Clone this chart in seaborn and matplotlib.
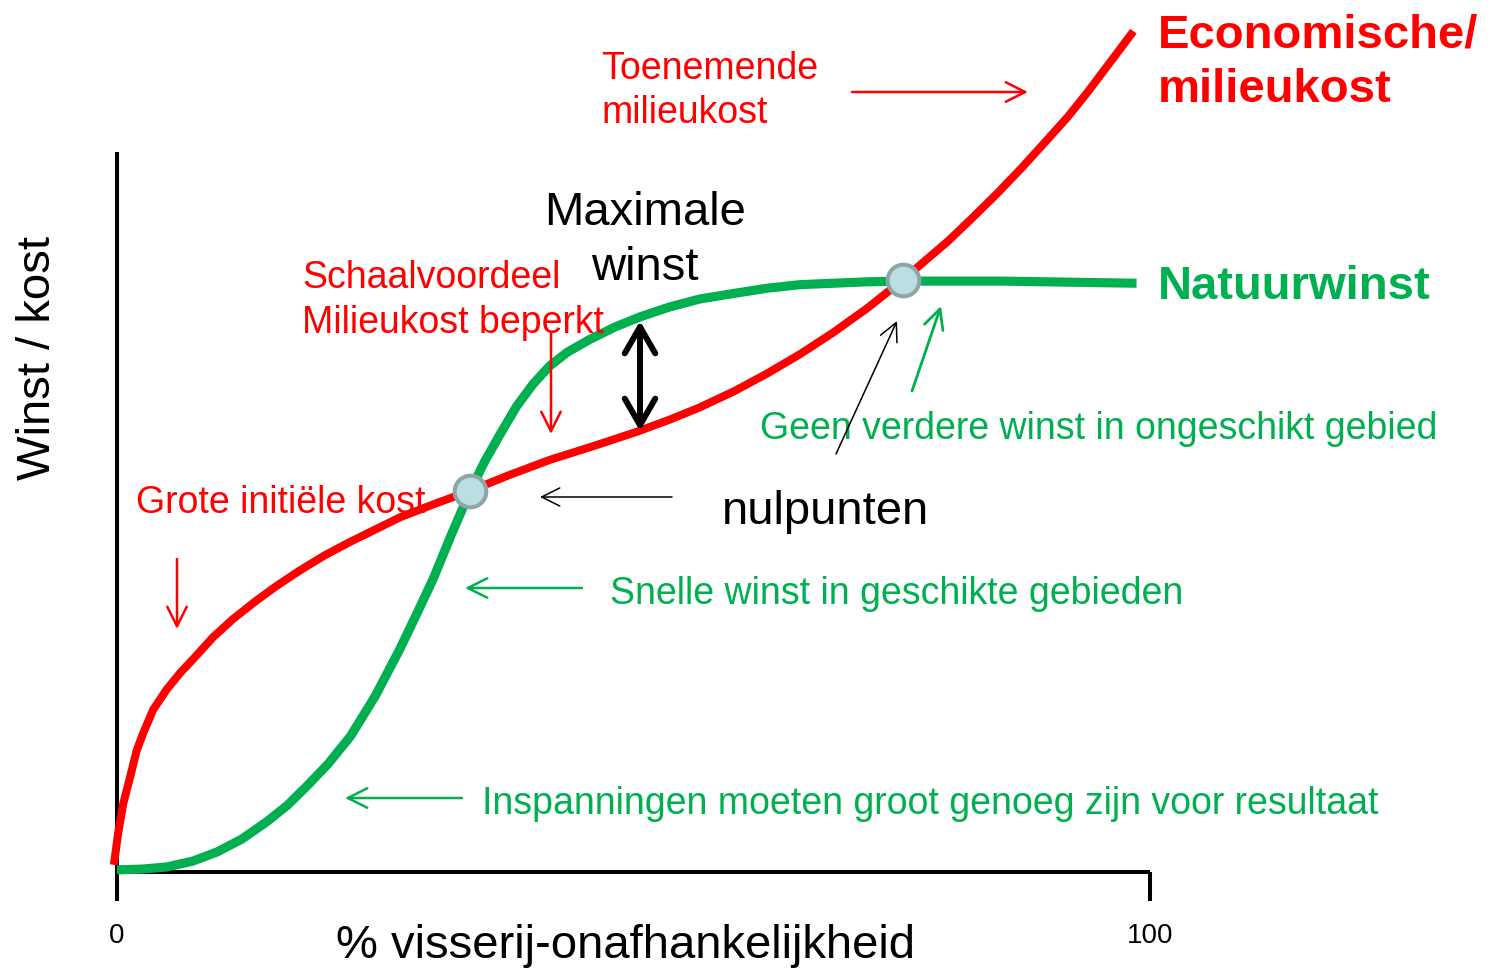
import matplotlib
matplotlib.use("Agg")
import matplotlib.pyplot as plt
import seaborn as sns
import pandas as pd

# ---- data (x: % visserij-onafhankelijkheid, y: winst / kost, arbitrary units) ----
kost_x = [-0.3, 0.1, 0.6, 1.3, 1.9, 2.5, 3.5, 4.8, 6.1, 7.4, 9.3, 11.2, 13.4, 15.5,
          17.7, 20.1, 22.6, 27.4, 30.8, 34.2, 38.0, 41.9, 46.3, 50.3, 53.5, 56.4,
          59.8, 62.9, 66.1, 69.3, 72.7, 76.1, 78.2, 80.4, 82.8, 85.2, 87.6, 90.0,
          92.0, 93.9, 96.1, 98.4]
kost_y = [1.0, 5.3, 9.5, 13.4, 16.9, 19.2, 22.6, 25.4, 27.7, 29.7, 32.7, 35.2, 37.7,
          39.9, 42.0, 44.1, 46.0, 49.4, 51.3, 53.1, 55.3, 57.4, 59.4, 61.3, 63.0,
          64.7, 67.0, 69.4, 72.1, 75.1, 78.6, 82.5, 85.1, 87.8, 91.1, 94.5, 98.1,
          101.9, 105.1, 108.5, 112.7, 117.1]
winst_x = [0.0, 2.4, 4.8, 7.3, 9.7, 12.1, 14.5, 16.5, 18.4, 20.4, 22.6, 25.0, 27.4,
           29.0, 30.6, 32.4, 34.2, 35.6, 37.1, 38.7, 40.3, 41.9, 43.6, 45.8, 48.2,
           50.6, 53.5, 56.4, 59.8, 62.9, 66.1, 69.3, 72.7, 76.1, 85.5, 98.7]
winst_y = [0.3, 0.4, 0.7, 1.5, 2.8, 4.6, 7.0, 9.3, 12.0, 15.0, 18.9, 24.5, 31.1,
           35.9, 40.8, 47.1, 53.1, 57.2, 61.0, 64.9, 68.0, 70.5, 72.4, 74.2, 75.9,
           77.3, 78.7, 79.8, 80.6, 81.3, 81.8, 82.0, 82.2, 82.3, 82.3, 82.0]
nul_x = [34.2, 76.1]
nul_y = [53.1, 82.5]
x_ticks = [0, 100]
x_tick_labels = ["0", "100"]

RED = "#ff0000"
GREEN = "#00b050"

sns.set_theme(style="white")
plt.rcParams['font.family'] = ['Liberation Sans', 'DejaVu Sans']

W, H = 1490, 970
fig = plt.figure(figsize=(14.9, 9.7), dpi=100)
ax = fig.add_axes([0, 0, 1, 1])

kost = pd.DataFrame({"x": kost_x, "y": kost_y})
winst = pd.DataFrame({"x": winst_x, "y": winst_y})
nul = pd.DataFrame({"x": nul_x, "y": nul_y})

sns.lineplot(data=winst, x="x", y="y", sort=False, estimator=None, color=GREEN,
             lw=6.6, solid_capstyle="butt", solid_joinstyle="round", ax=ax, zorder=3)
sns.lineplot(data=kost, x="x", y="y", sort=False, estimator=None, color=RED,
             lw=5.8, solid_capstyle="butt", solid_joinstyle="round", ax=ax, zorder=4)
sns.scatterplot(data=nul, x="x", y="y", s=520, color="#b9dfe2", edgecolor="#8fa4a7",
                linewidth=2.9, ax=ax, zorder=6)

# axes geometry (pixel layout of the reference)
x0px, x100px = 117, 1150
y0px, y100px = 873, 155
sx = (x100px - x0px) / 100
sy = (y0px - y100px) / 100
ax.set_xlim(-x0px / sx, (W - x0px) / sx)
ax.set_ylim(-(H - y0px) / sy, y0px / sy)

for s in ["top", "right"]:
    ax.spines[s].set_visible(False)
for s in ["left", "bottom"]:
    ax.spines[s].set_position(("data", 0))
    ax.spines[s].set_linewidth(2.9)
    ax.spines[s].set_color("black")
    ax.spines[s].set_zorder(2)
ax.spines["left"].set_bounds(0, 100)
ax.spines["bottom"].set_bounds(0, 99.8)
ax.set_yticks([])
ax.set_xticks(x_ticks, x_tick_labels)
ax.tick_params(axis="x", direction="out", length=21, width=2.9, color="black",
               labelsize=20, pad=15, labelcolor="black", bottom=True)
ax.set_xlabel("")
ax.set_ylabel("")
ax.grid(False)


def P(x, y):
    return (x / W, 1 - y / H)


def T(x, y, s, size=27, color="black", weight="normal", ha="left", va="baseline", **kw):
    ax.text(*P(x, y), s, transform=fig.transFigure, fontsize=size, color=color,
            fontweight=weight, ha=ha, va=va, **kw)


def A(start, end, color, lw=1.6, hl=14, hw=7, style="->", z=5):
    ax.annotate("", xy=P(*end), xytext=P(*start), xycoords="figure fraction",
                textcoords="figure fraction",
                arrowprops=dict(arrowstyle=f"{style},head_length={hl},head_width={hw}",
                                color=color, lw=lw, shrinkA=0, shrinkB=0,
                                mutation_scale=1, capstyle="round", joinstyle="round"),
                zorder=z)


# texts
T(1158, 47, "Economische/", size=34, color=RED, weight="bold")
T(1158, 102, "milieukost", size=34, color=RED, weight="bold")
T(1158, 299, "Natuurwinst", size=34, color=GREEN, weight="bold")
T(601, 79, "Toenemende", color=RED)
T(601, 123, "milieukost", color=RED)
T(645, 225, "Maximale", size=34, ha="center")
T(645, 280, "winst", size=34, ha="center")
T(302, 288, "Schaalvoordeel", color=RED)
T(302, 333, "Milieukost beperkt", color=RED)
T(760, 439, "Geen verdere winst in ongeschikt gebied", color=GREEN)
T(722, 524, "nulpunten", size=34)
T(136, 513, "Grote initiële kost", color=RED)
T(610, 604, "Snelle winst in geschikte gebieden", color=GREEN)
T(482, 814, "Inspanningen moeten groot genoeg zijn voor resultaat", color=GREEN)
T(625, 958, "% visserij-onafhankelijkheid", size=34, ha="center")
T(38, 358, "Winst / kost", size=34, ha="center", va="center", rotation=90)

# arrows
A((852, 93), (1028, 93), RED, lw=1.8)
A((551, 333), (551, 435), RED, lw=1.8)
A((177, 560), (177, 630), RED, lw=1.8)
A((672, 498), (540, 498), "black", lw=1.1, hl=13, hw=6.5)
A((836, 455), (897, 322), "black", lw=1.1, hl=13, hw=6.5)
A((912, 392), (941, 307), GREEN, lw=2.0)
A((582, 589), (465, 589), GREEN, lw=1.8)
A((462, 799), (345, 799), GREEN, lw=1.8)
A((640, 322), (640, 432), "black", lw=4.3, hl=19, hw=11, style="<->", z=7)

fig.savefig("out.png", dpi=100)
